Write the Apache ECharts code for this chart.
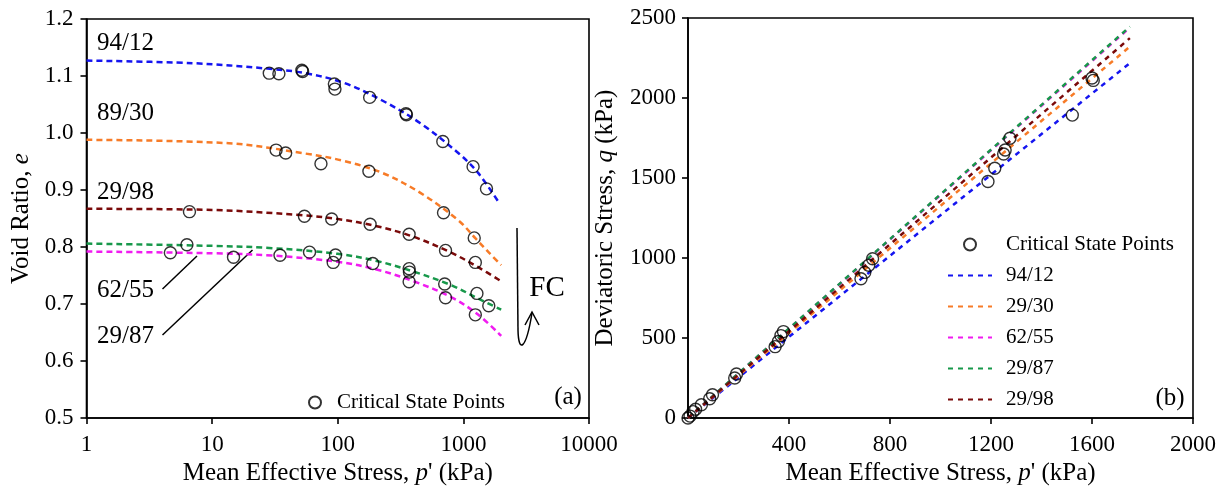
<!DOCTYPE html>
<html><head><meta charset="utf-8">
<script src="https://cdn.jsdelivr.net/npm/echarts@6/dist/echarts.min.js"></script>
<style>html,body{margin:0;padding:0;background:#fff}#c{width:1225px;height:491px}</style>
</head><body><div id="c"></div>
<script>
// ---------- Panel (a): void ratio vs mean effective stress (log) ----------
const curveNamesA = ['94/12', '89/30', '29/98', '29/87', '62/55'];
const curveP_94_12 = [1, 7, 27.5, 55, 112, 226, 455, 920, 1310, 1930];
const curveE_94_12 = [1.127, 1.1225, 1.113, 1.105, 1.088, 1.057, 1.017, 0.964, 0.930, 0.877];
const curveP_89_30 = [1, 13.6, 55, 112, 226, 455, 920, 1250, 1600, 2000];
const curveE_89_30 = [0.988, 0.982, 0.964, 0.951, 0.930, 0.895, 0.846, 0.815, 0.790, 0.768];
const curveP_29_98 = [1, 10, 50, 100, 200, 400, 800, 1300, 2000];
const curveE_29_98 = [0.867, 0.865, 0.856, 0.849, 0.837, 0.818, 0.790, 0.765, 0.740];
const curveP_29_87 = [1, 10, 30, 100, 200, 400, 800, 1300, 2000];
const curveE_29_87 = [0.806, 0.802, 0.798, 0.788, 0.776, 0.757, 0.733, 0.710, 0.690];
const curveP_62_55 = [1, 10, 30, 100, 200, 400, 800, 1300, 2000];
const curveE_62_55 = [0.792, 0.789, 0.785, 0.774, 0.761, 0.740, 0.712, 0.682, 0.644];

const cspP_a = [28.5, 34, 51.8, 52.5, 94, 95, 179.5, 349, 352, 686, 1195, 1527,
                32.3, 38.5, 73.5, 177, 695, 1220,
                6.6, 54.3, 89.5, 181, 370, 721, 1245,
                6.3, 59.6, 96, 370, 372, 710, 1282, 1593,
                4.65, 14.8, 34.7, 92, 190, 370, 721, 1245];
const cspE_a = [1.105, 1.104, 1.110, 1.108, 1.086, 1.077, 1.0625, 1.034, 1.032, 0.985, 0.941, 0.902,
                0.970, 0.965, 0.946, 0.933, 0.860, 0.816,
                0.862, 0.854, 0.849, 0.840, 0.8225, 0.794, 0.773,
                0.804, 0.791, 0.786, 0.762, 0.756, 0.735, 0.7186, 0.697,
                0.790, 0.782, 0.7855, 0.773, 0.771, 0.739, 0.711, 0.681];

// ---------- Panel (b): deviatoric stress vs mean effective stress ----------
const lineNamesB = ['94/12', '29/30', '62/55', '29/87', '29/98'];
const lineP_b = [0, 1750];
const lineQ_94_12 = [0, 2218];
const lineQ_29_30 = [0, 2321];
const lineQ_62_55 = [0, 2440];
const lineQ_29_87 = [0, 2446];
const lineQ_29_98 = [0, 2374];

const cspP_b = [0, 8, 20, 30, 53, 86, 97, 185, 192, 345, 358, 368, 378, 685, 700, 716, 731,
                1188, 1215, 1250, 1256, 1275, 1522, 1600, 1605];
const cspQ_b = [0, 12, 40, 55, 83, 120, 145, 250, 275, 446, 478, 515, 540, 870, 910, 955, 995,
                1478, 1561, 1650, 1675, 1748, 1893, 2125, 2110];

const colors = { blue: '#1515f0', orange: '#f77b27', magenta: '#f01cf0', green: '#17984a', darkred: '#7a0a0a' };
const FONT = 'Liberation Serif';

function pairs(xs, ys) { return xs.map((x, i) => [x, ys[i]]); }

const curveSeries = [
  ['94/12', curveP_94_12, curveE_94_12, colors.blue],
  ['89/30', curveP_89_30, curveE_89_30, colors.orange],
  ['29/98', curveP_29_98, curveE_29_98, colors.darkred],
  ['29/87', curveP_29_87, curveE_29_87, colors.green],
  ['62/55', curveP_62_55, curveE_62_55, colors.magenta]
].map(([n, p, e, c]) => ({
  name: 'a ' + n, type: 'line', xAxisIndex: 0, yAxisIndex: 0,
  data: pairs(p, e), smooth: 0.35, symbol: 'none',
  lineStyle: { color: c, width: 2.5, type: [6, 4] }, itemStyle: { color: c }, z: 2
}));

const lineSeries = [
  ['94/12', lineQ_94_12, colors.blue],
  ['29/30', lineQ_29_30, colors.orange],
  ['62/55', lineQ_62_55, colors.magenta],
  ['29/87', lineQ_29_87, colors.green],
  ['29/98', lineQ_29_98, colors.darkred]
].map(([n, q, c]) => ({
  name: n, type: 'line', xAxisIndex: 1, yAxisIndex: 1,
  data: pairs(lineP_b, q), symbol: 'none',
  lineStyle: { color: c, width: 2.5, type: [5, 5] }, itemStyle: { color: c }, z: 2
}));

const circleStyle = { color: 'rgba(255,255,255,0)', borderColor: '#000', borderWidth: 1.4 };

const axisCommon = {
  axisLine: { show: true, lineStyle: { color: '#000', width: 1.6 } },
  axisTick: { show: true, inside: false, length: 6, lineStyle: { color: '#000', width: 1.6 } },
  splitLine: { show: false },
  axisLabel: { color: '#000', fontFamily: FONT, fontSize: 23 },
  nameTextStyle: { color: '#000', fontFamily: FONT, fontSize: 25 }
};
const nameRich = {
  n: { fontFamily: FONT, fontSize: 25, color: '#000' },
  i: { fontFamily: FONT, fontSize: 25, color: '#000', fontStyle: 'italic' }
};

const legendLineItems = lineNamesB.map(n => ({ name: n, itemStyle: { opacity: 0 } }));

const option = {
  animation: false,
  backgroundColor: '#fff',
  grid: [
    { left: 86.5, top: 19, width: 502.5, height: 400.5, show: true, borderColor: '#000', borderWidth: 1.6, containLabel: false },
    { left: 688, top: 18, width: 505, height: 402, show: true, borderColor: '#000', borderWidth: 1.6, containLabel: false }
  ],
  xAxis: [
    Object.assign({}, axisCommon, {
      gridIndex: 0, type: 'log', logBase: 10, min: 1, max: 10000,
      axisLabel: Object.assign({}, axisCommon.axisLabel, { margin: 15, formatter: v => String(Math.round(v)) }),
      name: '{n|Mean Effective Stress, }{i|p}{n|\' (kPa)}', nameLocation: 'middle', nameGap: 43,
      nameTextStyle: { rich: nameRich }
    }),
    Object.assign({}, axisCommon, {
      gridIndex: 1, type: 'value', min: 0, max: 2000, interval: 400,
      axisLabel: Object.assign({}, axisCommon.axisLabel, { margin: 15, showMinLabel: false, formatter: v => String(v) }),
      name: '{n|Mean Effective Stress, }{i|p}{n|\' (kPa)}', nameLocation: 'middle', nameGap: 43,
      nameTextStyle: { rich: nameRich }
    })
  ],
  yAxis: [
    Object.assign({}, axisCommon, {
      gridIndex: 0, type: 'value', min: 0.5, max: 1.2, interval: 0.1,
      axisLabel: Object.assign({}, axisCommon.axisLabel, { margin: 13, formatter: v => v.toFixed(1) }),
      name: '{n|Void Ratio, }{i|e}', nameLocation: 'middle', nameGap: 53,
      nameTextStyle: { rich: nameRich }
    }),
    Object.assign({}, axisCommon, {
      gridIndex: 1, type: 'value', min: 0, max: 2500, interval: 500,
      axisLabel: Object.assign({}, axisCommon.axisLabel, { margin: 12, formatter: v => String(v) }),
      name: '{n|Deviatoric Stress, }{i|q}{n| (kPa)}', nameLocation: 'middle', nameGap: 70,
      nameTextStyle: { rich: nameRich }
    })
  ],
  legend: [
    {
      data: ['Critical State Points'], orient: 'vertical', left: 303, top: 387,
      itemWidth: 24, itemHeight: 12, selectedMode: false,
      textStyle: { fontFamily: FONT, fontSize: 21, color: '#000', padding: [0, 0, 0, 5] }
    },
    {
      data: ['Critical State Points', ...legendLineItems],
      orient: 'vertical', left: 942, top: 229, itemWidth: 44, itemHeight: 12, itemGap: 10,
      selectedMode: false,
      textStyle: { fontFamily: FONT, fontSize: 21, color: '#000', padding: [0, 0, 0, 9] }
    }
  ],
  series: [
    ...curveSeries,
    {
      name: 'Critical State Points', type: 'scatter', xAxisIndex: 0, yAxisIndex: 0,
      data: pairs(cspP_a, cspE_a), symbol: 'circle', symbolSize: 12, itemStyle: circleStyle, z: 3
    },
    ...lineSeries,
    {
      name: 'Critical State Points', type: 'scatter', xAxisIndex: 1, yAxisIndex: 1,
      data: pairs(cspP_b, cspQ_b), symbol: 'circle', symbolSize: 12, itemStyle: circleStyle, z: 3
    }
  ],
  graphic: [
    { type: 'text', x: 97, y: 43, style: { text: '94/12', font: '25px "Liberation Serif"', fill: '#000', textVerticalAlign: 'middle', verticalAlign: 'middle' } },
    { type: 'text', x: 97, y: 113, style: { text: '89/30', font: '25px "Liberation Serif"', fill: '#000', textVerticalAlign: 'middle', verticalAlign: 'middle' } },
    { type: 'text', x: 97, y: 192, style: { text: '29/98', font: '25px "Liberation Serif"', fill: '#000', textVerticalAlign: 'middle', verticalAlign: 'middle' } },
    { type: 'text', x: 97, y: 290, style: { text: '62/55', font: '25px "Liberation Serif"', fill: '#000', textVerticalAlign: 'middle', verticalAlign: 'middle' } },
    { type: 'text', x: 97, y: 336, style: { text: '29/87', font: '25px "Liberation Serif"', fill: '#000', textVerticalAlign: 'middle', verticalAlign: 'middle' } },
    { type: 'line', shape: { x1: 162.5, y1: 289, x2: 197, y2: 256 }, style: { stroke: '#000', lineWidth: 1.5 } },
    { type: 'line', shape: { x1: 162.5, y1: 335, x2: 252.5, y2: 250 }, style: { stroke: '#000', lineWidth: 1.5 } },
    { type: 'polyline', shape: { points: [[517, 228], [518, 330]] }, style: { stroke: '#000', lineWidth: 1.5, fill: null } },
    { type: 'bezierCurve', shape: { x1: 518, y1: 330, cpx1: 518.5, cpy1: 354, cpx2: 526, cpy2: 350, x2: 532, y2: 313 }, style: { stroke: '#000', lineWidth: 1.5, fill: null } },
    { type: 'polyline', shape: { points: [[525, 325], [532, 312], [539, 325]] }, style: { stroke: '#000', lineWidth: 1.5, fill: null } },
    { type: 'text', x: 547, y: 288, style: { text: 'FC', font: '29px "Liberation Serif"', fill: '#000', textAlign: 'center', align: 'center', textVerticalAlign: 'middle', verticalAlign: 'middle' } },
    { type: 'text', x: 568, y: 397, style: { text: '(a)', font: '25px "Liberation Serif"', fill: '#000', textAlign: 'center', align: 'center', textVerticalAlign: 'middle', verticalAlign: 'middle' } },
    { type: 'text', x: 1170, y: 398, style: { text: '(b)', font: '25px "Liberation Serif"', fill: '#000', textAlign: 'center', align: 'center', textVerticalAlign: 'middle', verticalAlign: 'middle' } }
  ]
};

const chart = echarts.init(document.getElementById('c'), null, { renderer: 'canvas' });
chart.setOption(option);
</script>
</body></html>
